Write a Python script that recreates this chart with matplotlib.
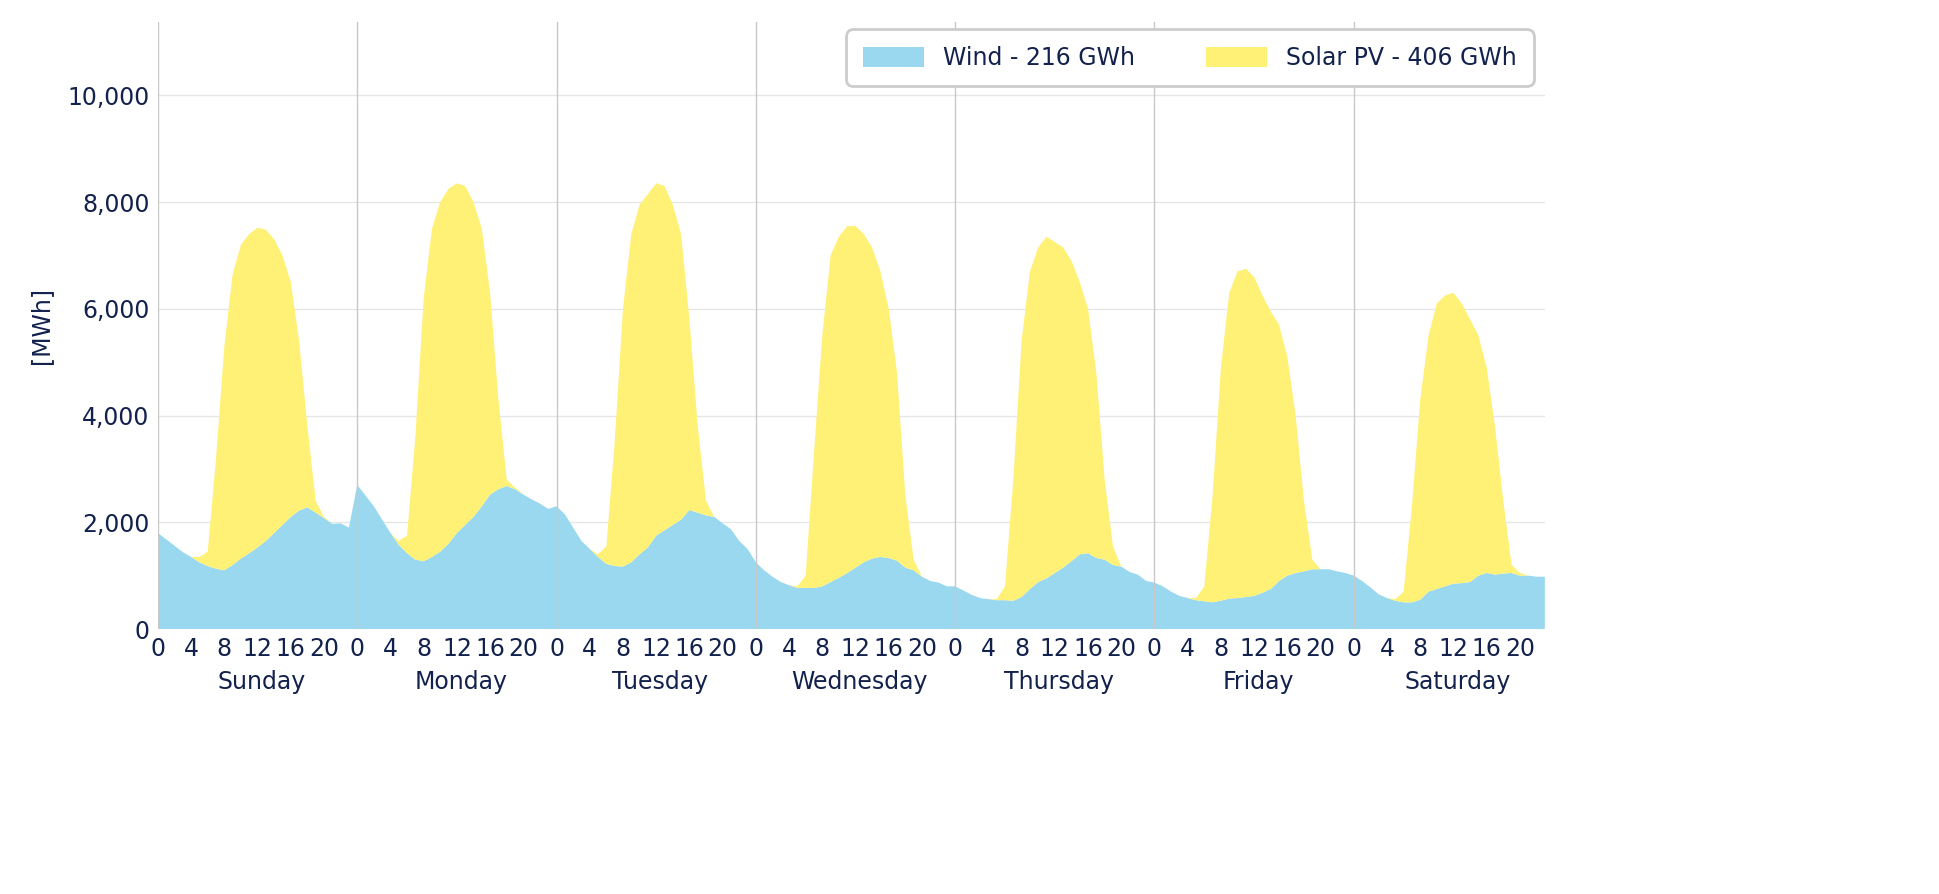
import numpy as np
import matplotlib
matplotlib.use("Agg")
import matplotlib.pyplot as plt

days = ["Sunday", "Monday", "Tuesday", "Wednesday", "Thursday", "Friday", "Saturday"]
hour_ticks = [0, 4, 8, 12, 16, 20]

wind = [
 1800,1680,1560,1440,1350,1250,1180,1130,1100,1200,1320,1420,1530,1650,1800,1950,2100,2220,2280,2180,2080,1970,1980,1900,
 2700,2500,2300,2050,1800,1580,1420,1300,1270,1350,1450,1600,1800,1950,2100,2300,2520,2620,2680,2620,2520,2430,2350,2250,
 2300,2150,1900,1650,1500,1350,1220,1180,1170,1250,1400,1530,1750,1850,1950,2050,2230,2180,2130,2100,1980,1870,1650,1500,
 1250,1100,980,880,820,770,770,770,800,880,960,1050,1150,1250,1320,1350,1330,1280,1150,1100,980,900,870,800,
 800,720,640,580,560,540,540,530,600,750,880,950,1050,1150,1270,1400,1420,1330,1300,1200,1170,1070,1020,900,
 870,800,700,620,580,540,520,500,530,570,580,600,620,680,750,900,1000,1050,1080,1120,1120,1120,1080,1050,
 1000,900,780,650,580,530,500,500,550,700,750,800,850,860,880,1000,1050,1020,1040,1050,1000,1000,980,980]

# top of stacked area (wind + solar) for hours 5..20 of each day
top_day = [
 [1350,1450,3200,5300,6650,7200,7400,7520,7480,7300,7000,6500,5400,3800,2400,2100],
 [1650,1750,3600,6200,7500,8000,8250,8350,8300,8000,7500,6300,4300,2800,2650,2520],
 [1400,1550,3500,6000,7400,7950,8150,8350,8300,7950,7400,5800,3800,2400,2100,1980],
 [800,1000,3300,5500,7000,7350,7550,7550,7400,7150,6700,6000,4800,2500,1300,980],
 [560,800,2800,5400,6700,7150,7350,7250,7150,6900,6500,6000,4800,2800,1550,1170],
 [580,800,2500,4900,6300,6700,6750,6600,6250,5950,5700,5100,4000,2400,1300,1120],
 [560,700,2300,4300,5500,6100,6250,6300,6100,5800,5500,4900,3800,2400,1200,1050]]

wind = np.array(wind, dtype=float)
solar = np.zeros(168)
for d, arr in enumerate(top_day):
    for i, v in enumerate(arr):
        h = d * 24 + 5 + i
        solar[h] = max(v - wind[h], 0)

hours = np.arange(168)
navy = "#13224d"
fig = plt.figure(figsize=(19.4, 8.94), dpi=100)
ax = fig.add_axes([0.0814, 0.2964, 0.7149, 0.6786])
ax.stackplot(hours, wind, solar, colors=["#99d8ee", "#fff176"], linewidth=0,
             labels=["Wind - 216 GWh", "Solar PV - 406 GWh"])
ax.set_xlim(0, 167)
ax.set_ylim(0, 11367)
ax.set_yticks([0, 2000, 4000, 6000, 8000, 10000])
ax.set_yticklabels(["0", "2,000", "4,000", "6,000", "8,000", "10,000"])
ax.grid(axis="y", color="#e6e6e6", linewidth=1)
for d in range(7):
    ax.axvline(d * 24, color="#c8c8c8", linewidth=1, zorder=3)
ax.set_axisbelow(True)
xt = [d * 24 + h for d in range(7) for h in hour_ticks]
ax.set_xticks(xt)
ax.set_xticklabels([str(h) for d in range(7) for h in hour_ticks])
for d, name in enumerate(days):
    ax.text(d * 24 + 12.5, -0.068, name, transform=ax.get_xaxis_transform(),
            ha="center", va="top", fontsize=17, color=navy)
ax.tick_params(axis="both", labelsize=17, colors=navy, length=0, pad=6)
for s in ax.spines.values():
    s.set_visible(False)
ax.set_ylabel("[MWh]", fontsize=17, color=navy, labelpad=10)
leg = ax.legend(loc="upper right", ncol=2, fontsize=17, frameon=True, fancybox=True,
                edgecolor="#cccccc", framealpha=1, handlelength=2.6, handleheight=0.9,
                columnspacing=3, borderpad=0.5, bbox_to_anchor=(0.997, 1.0))
leg.get_frame().set_linewidth(2)
leg.get_frame().set_boxstyle("round,pad=0.2,rounding_size=0.3")
for t in leg.get_texts():
    t.set_color(navy)
fig.savefig("out.png", dpi=100)
